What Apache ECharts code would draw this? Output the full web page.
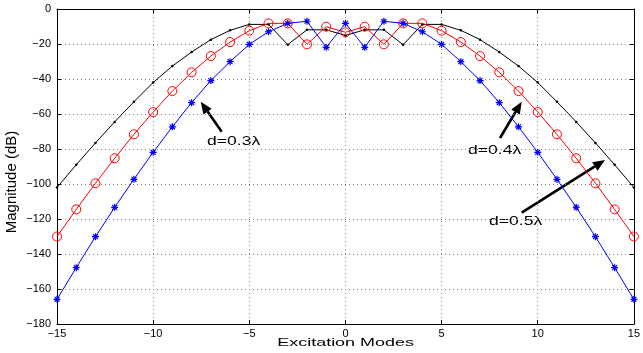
<!DOCTYPE html>
<html><head><meta charset="utf-8">
<script src="https://cdn.jsdelivr.net/npm/echarts@6/dist/echarts.min.js"></script>
<style>html,body{margin:0;padding:0;background:#fff}#c{width:643px;height:353px}</style>
</head><body><div id="c"></div>
<script>
// Excitation modes (x)
const modes = [-15,-14,-13,-12,-11,-10,-9,-8,-7,-6,-5,-4,-3,-2,-1,0,1,2,3,4,5,6,7,8,9,10,11,12,13,14,15];
// d = 0.3 lambda (blue, stars)
const d03 = [-165.9,-147.8,-130.1,-113.3,-97.3,-81.9,-67.3,-53.5,-40.9,-30.1,-20.2,-13.0,-8.2,-7.0,-21.9,-8.2,-21.9,-7.0,-8.2,-13.0,-20.2,-30.1,-40.9,-53.5,-67.3,-81.9,-97.3,-113.3,-130.1,-147.8,-165.9];
// d = 0.4 lambda (red, circles)
const d04 = [-130.0,-114.5,-99.6,-85.3,-71.6,-58.9,-46.9,-36.2,-26.9,-18.9,-12.4,-8.2,-8.2,-20.2,-10.1,-13.3,-10.1,-20.2,-8.2,-8.2,-12.4,-18.9,-26.9,-36.2,-46.9,-58.9,-71.6,-85.3,-99.6,-114.5,-130.0];
// d = 0.5 lambda (black)
const d05 = [-102.0,-89.0,-76.5,-64.5,-53.0,-42.0,-32.6,-24.6,-17.5,-12.2,-8.8,-8.8,-20.4,-11.9,-11.9,-15.1,-11.9,-11.9,-20.4,-8.8,-8.8,-12.2,-17.5,-24.6,-32.6,-42.0,-53.0,-64.5,-76.5,-89.0,-102.0];
const xTicks = [-15,-10,-5,0,5,10,15];
const yTicks = [0,-20,-40,-60,-80,-100,-120,-140,-160,-180];
const labels = ['d=0.3\u03bb','d=0.4\u03bb','d=0.5\u03bb'];

const FONT = '"Liberation Sans", Arial, Helvetica, sans-serif';
const pairs = arr => modes.map((m,i)=>[m,arr[i]]);
const fmt = v => String(v).replace('-', '\u2212');

const chart = echarts.init(document.getElementById('c'), null, {renderer:'canvas'});

const gridLine = {show:true, lineStyle:{color:'#808080', type:[1,3], width:1}};
const axisCommon = {
  axisLine:{show:true, onZero:false, lineStyle:{color:'#000', width:1}},
  axisTick:{show:true, inside:true, length:4, lineStyle:{color:'#000'}},
};

function arrow(x1,y1,x2,y2){
  const ang = Math.atan2(y2-y1, x2-x1);
  const L = 12, W = 5;
  const bx = x2 - L*Math.cos(ang), by = y2 - L*Math.sin(ang);
  const px = -Math.sin(ang)*W, py = Math.cos(ang)*W;
  return [
    {type:'line', silent:true, shape:{x1:x1,y1:y1,x2:bx,y2:by}, style:{stroke:'#000', lineWidth:2.6}},
    {type:'polygon', silent:true, shape:{points:[[x2,y2],[bx+px,by+py],[bx-px,by-py]]}, style:{fill:'#000'}}
  ];
}
function label(txt,x,y){
  return {type:'text', silent:true, x:x, y:y, scaleX:1.35,
    style:{text:txt, fontSize:13, fontFamily:FONT, fill:'#000', textAlign:'left', textVerticalAlign:'middle'}};
}

chart.setOption({
  animation:false,
  backgroundColor:'#fff',
  grid:{left:57, right:5, top:9, bottom:29, show:false},
  xAxis:[
    Object.assign({type:'value', min:-15, max:15, interval:5, position:'bottom',
      axisLabel:{show:true, fontSize:11, fontFamily:FONT, color:'#000', margin:4, formatter:fmt},
      splitLine:gridLine}, axisCommon),
    Object.assign({type:'value', min:-15, max:15, interval:5, position:'top',
      axisLabel:{show:false}, splitLine:{show:false}}, axisCommon)
  ],
  yAxis:[
    Object.assign({type:'value', min:-180, max:0, interval:20, position:'left',
      axisLabel:{show:true, fontSize:11, fontFamily:FONT, color:'#000', margin:6, formatter:fmt},
      splitLine:gridLine}, axisCommon),
    Object.assign({type:'value', min:-180, max:0, interval:20, position:'right',
      axisLabel:{show:false}, splitLine:{show:false}}, axisCommon)
  ],
  series:[
    {name:labels[2], type:'line', data:pairs(d05), symbol:'circle', symbolSize:2.5, showAllSymbol:true,
      itemStyle:{color:'#000'}, lineStyle:{color:'#000', width:1}, z:2},
    {name:labels[1], type:'line', data:pairs(d04), symbol:'circle', symbolSize:9, showAllSymbol:true,
      itemStyle:{color:'rgba(0,0,0,0)', borderColor:'#ff0000', borderWidth:1}, lineStyle:{color:'#ff0000', width:1}, z:3},
    {name:labels[0], type:'line', data:pairs(d03), symbol:'path://M5,0L5,10M0,5L10,5M1.5,1.5L8.5,8.5M1.5,8.5L8.5,1.5', symbolSize:7, showAllSymbol:true,
      itemStyle:{color:'#0000ff', borderColor:'#0000ff', borderWidth:1.2}, lineStyle:{color:'#0000ff', width:1}, z:4}
  ],
  graphic:[
    {type:'text', silent:true, x:345.6, y:343, scaleX:1.63,
      style:{text:'Excitation Modes', fontSize:11, fontFamily:FONT, fill:'#000', textAlign:'center', textVerticalAlign:'middle'}},
    {type:'text', silent:true, x:12, y:182, rotation:Math.PI/2,
      style:{text:'Magnitude (dB)', fontSize:15, fontFamily:FONT, fill:'#000', textAlign:'center', textVerticalAlign:'middle'}},
    ...arrow(221.7,131.7,200.7,101.7),
    ...arrow(500,138,521.7,101.7),
    ...arrow(521.7,212.7,605,160),
    label(labels[0],207,141),
    label(labels[1],468,150),
    label(labels[2],489,221.5)
  ]
});
</script></body></html>
